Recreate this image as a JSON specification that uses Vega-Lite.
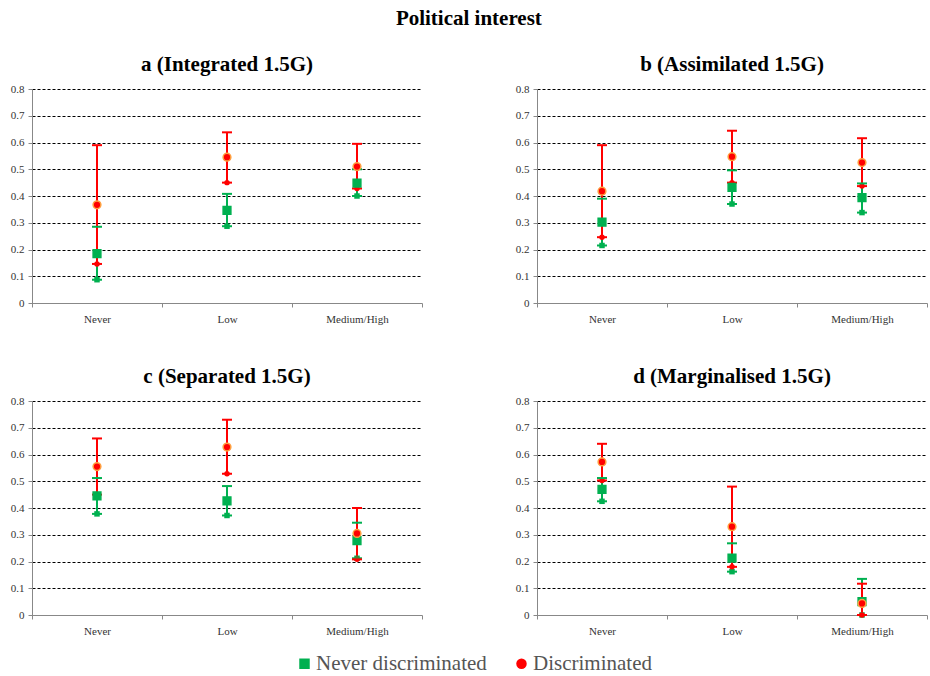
{
  "$schema": "https://vega.github.io/schema/vega-lite/v6.json",
  "background": "white",
  "padding": {"left": 10, "top": 8, "right": 2, "bottom": 5},
  "title": {"text": "Political interest", "font": "Liberation Serif", "fontSize": 21, "fontWeight": "bold", "color": "black", "anchor": "middle", "offset": 25},
  "data": {"values": [
    {"panel": "a (Integrated 1.5G)", "level": "Never", "group": "Never discriminated", "mean": 0.185, "lo": 0.087, "hi": 0.285},
    {"panel": "a (Integrated 1.5G)", "level": "Low", "group": "Never discriminated", "mean": 0.346, "lo": 0.287, "hi": 0.408},
    {"panel": "a (Integrated 1.5G)", "level": "Medium/High", "group": "Never discriminated", "mean": 0.448, "lo": 0.4, "hi": 0.5},
    {"panel": "a (Integrated 1.5G)", "level": "Never", "group": "Discriminated", "mean": 0.367, "lo": 0.146, "hi": 0.59},
    {"panel": "a (Integrated 1.5G)", "level": "Low", "group": "Discriminated", "mean": 0.545, "lo": 0.45, "hi": 0.638},
    {"panel": "a (Integrated 1.5G)", "level": "Medium/High", "group": "Discriminated", "mean": 0.51, "lo": 0.428, "hi": 0.595},
    {"panel": "b (Assimilated 1.5G)", "level": "Never", "group": "Never discriminated", "mean": 0.302, "lo": 0.215, "hi": 0.39},
    {"panel": "b (Assimilated 1.5G)", "level": "Low", "group": "Never discriminated", "mean": 0.432, "lo": 0.37, "hi": 0.496},
    {"panel": "b (Assimilated 1.5G)", "level": "Medium/High", "group": "Never discriminated", "mean": 0.394, "lo": 0.338, "hi": 0.447},
    {"panel": "b (Assimilated 1.5G)", "level": "Never", "group": "Discriminated", "mean": 0.418, "lo": 0.246, "hi": 0.59},
    {"panel": "b (Assimilated 1.5G)", "level": "Low", "group": "Discriminated", "mean": 0.547, "lo": 0.45, "hi": 0.644},
    {"panel": "b (Assimilated 1.5G)", "level": "Medium/High", "group": "Discriminated", "mean": 0.525, "lo": 0.437, "hi": 0.616},
    {"panel": "c (Separated 1.5G)", "level": "Never", "group": "Never discriminated", "mean": 0.445, "lo": 0.378, "hi": 0.512},
    {"panel": "c (Separated 1.5G)", "level": "Low", "group": "Never discriminated", "mean": 0.427, "lo": 0.372, "hi": 0.482},
    {"panel": "c (Separated 1.5G)", "level": "Medium/High", "group": "Never discriminated", "mean": 0.278, "lo": 0.212, "hi": 0.345},
    {"panel": "c (Separated 1.5G)", "level": "Never", "group": "Discriminated", "mean": 0.555, "lo": 0.45, "hi": 0.66},
    {"panel": "c (Separated 1.5G)", "level": "Low", "group": "Discriminated", "mean": 0.628, "lo": 0.528, "hi": 0.73},
    {"panel": "c (Separated 1.5G)", "level": "Medium/High", "group": "Discriminated", "mean": 0.305, "lo": 0.208, "hi": 0.4},
    {"panel": "d (Marginalised 1.5G)", "level": "Never", "group": "Never discriminated", "mean": 0.47, "lo": 0.425, "hi": 0.512},
    {"panel": "d (Marginalised 1.5G)", "level": "Low", "group": "Never discriminated", "mean": 0.213, "lo": 0.162, "hi": 0.268},
    {"panel": "d (Marginalised 1.5G)", "level": "Medium/High", "group": "Never discriminated", "mean": 0.05, "lo": 0.0, "hi": 0.135},
    {"panel": "d (Marginalised 1.5G)", "level": "Never", "group": "Discriminated", "mean": 0.572, "lo": 0.503, "hi": 0.64},
    {"panel": "d (Marginalised 1.5G)", "level": "Low", "group": "Discriminated", "mean": 0.33, "lo": 0.18, "hi": 0.48},
    {"panel": "d (Marginalised 1.5G)", "level": "Medium/High", "group": "Discriminated", "mean": 0.043, "lo": 0.0, "hi": 0.117}
  ]},
  "facet": {"field": "panel", "type": "nominal", "title": null,
    "header": {"labelFont": "Liberation Serif", "labelFontSize": 21, "labelFontWeight": "bold", "labelColor": "black", "labelPadding": 8}},
  "columns": 2,
  "spacing": {"column": 92, "row": 42},
  "resolve": {"axis": {"x": "independent", "y": "independent"}},
  "spec": {
    "width": 390,
    "height": 214,
    "encoding": {
      "x": {"field": "level", "type": "nominal", "sort": ["Never", "Low", "Medium/High"], "title": null,
        "axis": {"labelAngle": 0, "tickBand": "extent"}},
      "color": {"field": "group", "type": "nominal", "scale": {"domain": ["Never discriminated", "Discriminated"], "range": ["#00b050", "#ff0000"]}, "title": null,
        "legend": {"orient": "none", "legendX": 262, "legendY": 564, "direction": "horizontal", "symbolSize": 110, "symbolStrokeWidth": 0, "columnPadding": 24, "labelOffset": 1, "labelLimit": 300, "labelFont": "Times New Roman, Liberation Serif, serif", "labelFontSize": 21, "labelColor": "#555"}},
      "shape": {"field": "group", "type": "nominal", "scale": {"domain": ["Never discriminated", "Discriminated"], "range": ["square", "circle"]}, "title": null,
        "legend": {"orient": "none", "legendX": 262, "legendY": 564, "direction": "horizontal", "symbolSize": 110, "symbolStrokeWidth": 0, "columnPadding": 24, "labelOffset": 1, "labelLimit": 300, "labelFont": "Times New Roman, Liberation Serif, serif", "labelFontSize": 21, "labelColor": "#555"}}
    },
    "layer": [
      {"mark": {"type": "rule", "strokeWidth": 2},
       "encoding": {"y": {"field": "lo", "type": "quantitative", "scale": {"domain": [0, 0.8], "nice": false}, "title": null, "axis": {"format": ".1~f"}},
         "y2": {"field": "hi"}}},
      {"mark": {"type": "point", "filled": false, "strokeWidth": 2, "size": 100, "opacity": 1},
       "encoding": {"y": {"field": "lo", "type": "quantitative"},
         "shape": {"value": "M-1,0L1,0"}}},
      {"mark": {"type": "point", "filled": false, "strokeWidth": 2, "size": 100, "opacity": 1},
       "encoding": {"y": {"field": "hi", "type": "quantitative"},
         "shape": {"value": "M-1,0L1,0"}}},
      {"mark": {"type": "point", "filled": true, "size": 60, "opacity": 1, "strokeWidth": 1.5},
       "encoding": {"y": {"field": "mean", "type": "quantitative"},
         "stroke": {"field": "group", "type": "nominal", "scale": {"domain": ["Never discriminated", "Discriminated"], "range": ["#00b050", "#ffa040"]}, "legend": null}}}
    ]
  },
  "config": {
    "font": "Liberation Serif",
    "view": {"stroke": null},
    "legend": {"labelFont": "Times New Roman, Liberation Serif, serif", "labelFontSize": 21, "labelColor": "#555"},
    "axis": {"grid": false, "labelFont": "Liberation Serif", "labelFontSize": 11, "labelColor": "#333", "domainColor": "#888", "tickColor": "#888", "tickSize": 4},
    "axisX": {"labelPadding": 6},
    "axisY": {"tickCount": 8, "labelOverlap": false, "grid": true, "gridColor": "black", "gridDash": [3, 2], "gridWidth": 1, "labelPadding": 4}
  }
}
